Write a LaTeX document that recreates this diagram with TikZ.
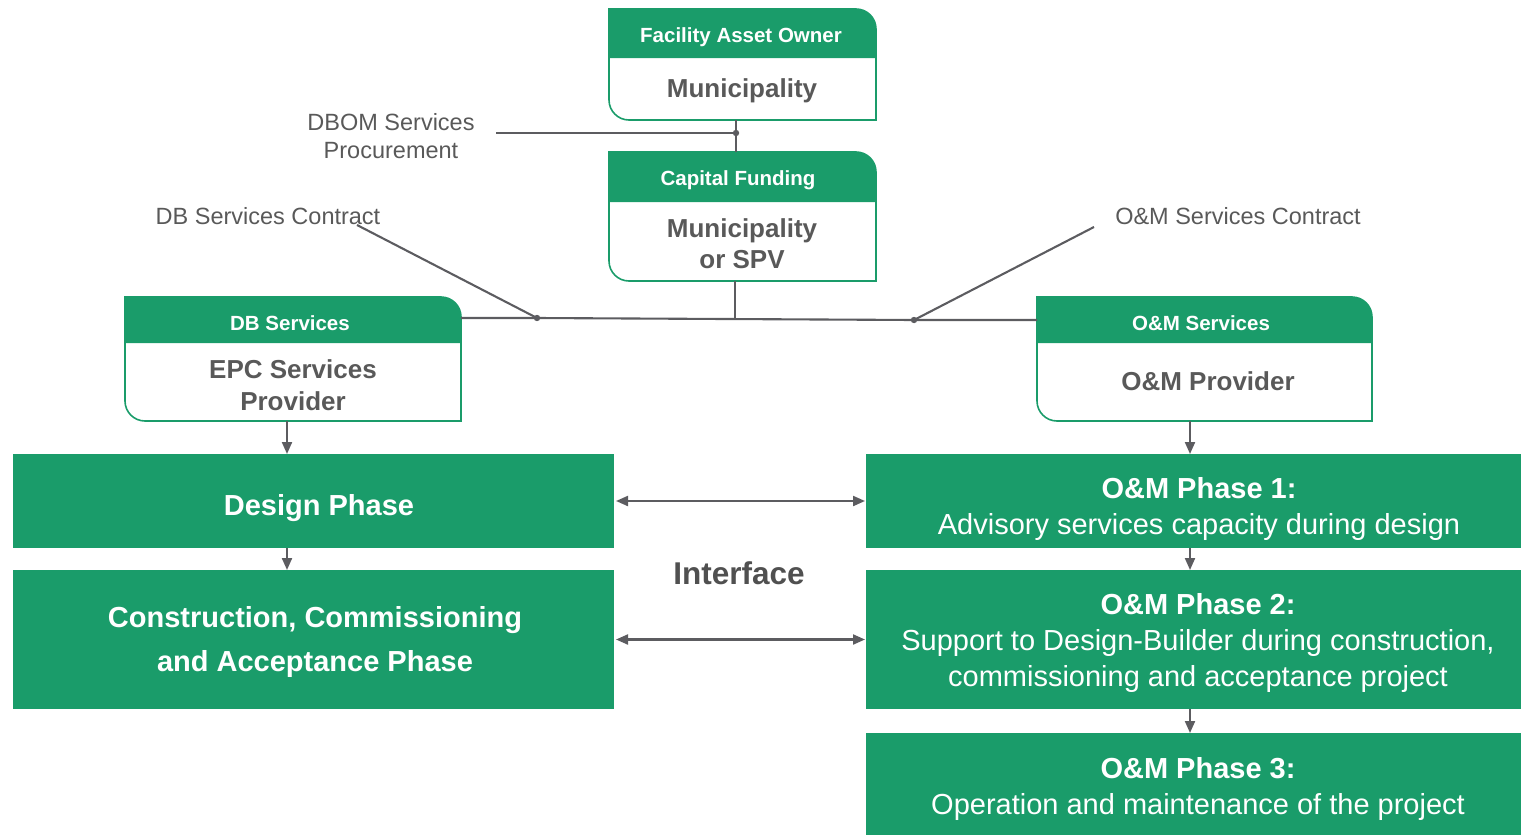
\documentclass[tikz,border=0pt]{standalone}
\usepackage{fontspec}
\setmainfont{Liberation Sans}
\usetikzlibrary{arrows.meta}
\definecolor{G}{HTML}{1A9C6A}
\definecolor{T}{HTML}{595959}
\definecolor{L}{HTML}{5C5C60}
% name, x1, y1, x2, y2, header bottom y  (pixel coords, y downward)
\newcommand\svcbox[6]{%
  \fill[G] (#2,-#6) -- (#2,-#3) -- ({#4-20},-#3) arc[start angle=90,end angle=0,radius=20] -- (#4,-#6) -- cycle;
  \draw[G,line width=1.6pt] (#2,-#6) -- (#2,-#3) -- ({#4-20},-#3) arc[start angle=90,end angle=0,radius=20]
     -- (#4,-#5) -- ({#2+20},-#5) arc[start angle=270,end angle=180,radius=20] -- cycle;
  \node[frame,minimum width={#4-#2},minimum height={#5-#3}] (#1) at ({(#2+#4)/2},{-(#3+#5)/2}) {};
}
\begin{document}
\begin{tikzpicture}[x=1pt,y=1pt,
  ln/.style={draw=L,line width=2.1pt},
  arr/.style={ln,-{Triangle[length=12pt,width=10pt]}},
  darr/.style={ln,{Triangle[length=12pt,width=10pt]}-{Triangle[length=12pt,width=10pt]}},
  hdr/.style={text=white,font=\bfseries\fontsize{20.5}{24}\selectfont},
  bdy/.style={text=T,font=\bfseries\fontsize{26}{31}\selectfont,align=center},
  lbl/.style={text=T,font=\fontsize{23.5}{28}\selectfont,align=center},
  frame/.style={inner sep=0pt,outer sep=0pt},
  phase/.style={fill=G,inner sep=0pt,outer sep=0pt},
  ptxt/.style={text=white,align=center,font=\fontsize{29}{36}\selectfont},
]
\useasboundingbox (0,0) rectangle (1521,-835);

% owner / funding / service boxes
\svcbox{fao}{609}{9}{876}{120}{58}
\node[hdr] (faoh) at (741,-37) {Facility Asset Owner};
\node[bdy] (faob) at (742,-91) {Municipality};

\svcbox{cap}{609}{152}{876}{281}{202}
\node[hdr] (caph) at (738,-180) {Capital Funding};
\node[bdy] (capb) at (742,-244) {Municipality\\or SPV};

\svcbox{db}{125}{297}{461}{421}{343}
\node[hdr] (dbh) at (290,-323) {DB Services};
\node[bdy,font=\bfseries\fontsize{26}{32}\selectfont] (dbb) at (293,-385) {EPC Services\\Provider};

\svcbox{om}{1037}{297}{1372}{421}{343}
\node[hdr] (omh) at (1201,-323) {O\&M Services};
\node[bdy] (omb) at (1208,-381) {O\&M Provider};

% labels
\node[lbl] (dbom) at (391,-136) {DBOM Services\\Procurement};
\node[lbl] (dbc) at (268,-216) {DB Services Contract};
\node[lbl] (omc) at (1238,-216) {O\&M Services Contract};

% phase boxes
\node[phase,minimum width=601,minimum height=94] (design) at (313.5,-501) {};
\node[ptxt,font=\bfseries\fontsize{29}{36}\selectfont] (designt) at (319,-508) {Design Phase};
\node[phase,minimum width=601,minimum height=139] (constr) at (313.5,-639.5) {};
\node[ptxt,font=\bfseries\fontsize{29}{44}\selectfont] (constrt) at (315,-642) {Construction, Commissioning\\and Acceptance Phase};
\node[phase,minimum width=655,minimum height=94] (p1) at (1193.5,-501) {};
\node[ptxt] (p1t) at (1199,-509) {\textbf{O\&M Phase 1:}\\Advisory services capacity during design};
\node[phase,minimum width=655,minimum height=139] (p2) at (1193.5,-639.5) {};
\node[ptxt] (p2t) at (1198,-643) {\textbf{O\&M Phase 2:}\\Support to Design-Builder during construction,\\commissioning and acceptance project};
\node[phase,minimum width=655,minimum height=102] (p3) at (1193.5,-784) {};
\node[ptxt] (p3t) at (1198,-789) {\textbf{O\&M Phase 3:}\\Operation and maintenance of the project};

\node[text=T!90!black,font=\bfseries\fontsize{31.5}{36}\selectfont] (intf) at (739,-573) {Interface};

% connector points
\coordinate (j0) at (496,-133);
\coordinate (j1) at (736,-133);
\coordinate (j2) at (735,-319);
\coordinate (j3) at (537,-318);
\coordinate (j4) at (914,-320);
\coordinate (d1) at (357,-225);
\coordinate (d2) at (1094,-227);
\coordinate (ax) at (287,0);
\coordinate (bx) at (1190,0);

\draw[ln] (j1 |- fao.south) -- (j1 |- cap.north);
\draw[ln] (j0) -- (j1);
\fill[L] (j1) circle (3.2);
\draw[ln] (j2 |- cap.south) -- (j2);
\draw[ln] (db.east |- j3) -- (j3) -- (j4) -- (om.west |- j4);
\draw[ln] (d1) -- (j3);
\draw[ln] (d2) -- (j4);
\fill[L] (j3) circle (3.2);
\fill[L] (j4) circle (3.2);

\draw[arr] (ax |- db.south) -- (ax |- design.north);
\draw[arr] (ax |- design.south) -- (ax |- constr.north);
\draw[arr] (bx |- om.south) -- (bx |- p1.north);
\draw[arr] (bx |- p1.south) -- (bx |- p2.north);
\draw[arr] (bx |- p2.south) -- (bx |- p3.north);

\draw[darr] ([xshift=2pt]design.east) -- ([xshift=-1pt]p1.west);
\draw[darr] ([xshift=2pt]constr.east) -- ([xshift=-1pt]p2.west);
\end{tikzpicture}
\end{document}
